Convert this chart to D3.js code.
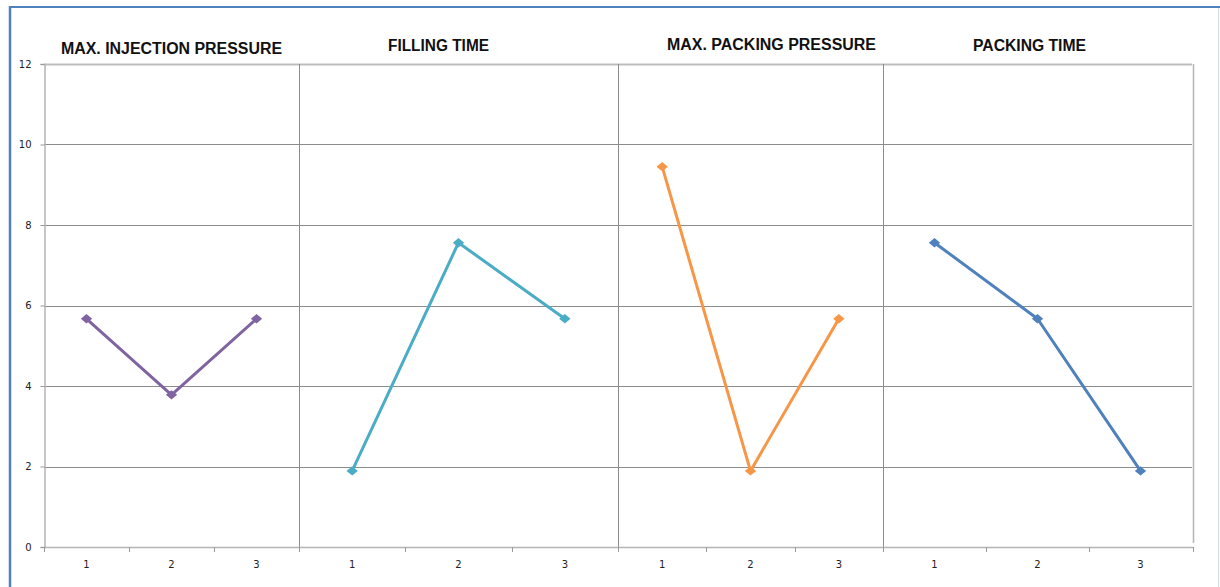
<!DOCTYPE html>
<html>
<head>
<meta charset="utf-8">
<script src="https://cdn.jsdelivr.net/npm/d3@7"></script>
<style>
  html, body { margin: 0; padding: 0; background: #fff; }
  svg { display: block; }
  text { font-family: "Liberation Sans", Arial, sans-serif; }
</style>
</head>
<body>
<svg id="chart" width="1220" height="587"></svg>
<script>
// Process factors, each evaluated at three levels
const factors = ["MAX. INJECTION PRESSURE", "FILLING TIME", "MAX. PACKING PRESSURE", "PACKING TIME"];
const levels = ["1", "2", "3"];
const injectionPressure = [5.67, 3.78, 5.67];
const fillingTime = [1.89, 7.56, 5.67];
const packingPressure = [9.45, 1.89, 5.67];
const packingTime = [7.56, 5.67, 1.89];
const yTicks = [0, 2, 4, 6, 8, 10, 12];

const seriesValues = [injectionPressure, fillingTime, packingPressure, packingTime];
const seriesColors = ["#8064A2", "#4BACC6", "#F79646", "#4F81BD"];

// Panel layout: horizontal extents and title placement
const panelEdges = [44, 299, 618, 883, 1192];
const titleLayout = [
  { cx: 171.5, y: 54, w: 221 },
  { cx: 438.5, y: 51, w: 101 },
  { cx: 771.5, y: 50, w: 209 },
  { cx: 1029.5, y: 51, w: 113 }
];

const svg = d3.select("#chart");
const plotTop = 64, plotBottom = 547;
const y = d3.scaleLinear().domain([0, 12]).range([plotBottom, plotTop]);

// outer frame
svg.append("line").attr("x1", 9).attr("x2", 1220).attr("y1", 7).attr("y2", 7)
  .attr("stroke", "#4F81BD").attr("stroke-width", 2);
svg.append("line").attr("x1", 10).attr("x2", 10).attr("y1", 6).attr("y2", 587)
  .attr("stroke", "#4F81BD").attr("stroke-width", 2.5);
svg.append("line").attr("x1", 1218.5).attr("x2", 1218.5).attr("y1", 8).attr("y2", 587)
  .attr("stroke", "#d4d9df").attr("stroke-width", 1);

// horizontal gridlines
svg.append("g").selectAll("line").data(yTicks.filter(d => d > 0)).join("line")
  .attr("x1", panelEdges[0]).attr("x2", panelEdges[4])
  .attr("y1", d => Math.round(y(d)) + 0.5).attr("y2", d => Math.round(y(d)) + 0.5)
  .attr("stroke", d => d === 12 ? "#bdbdbd" : "#8c8c8c").attr("stroke-width", d => d === 12 ? 2 : 1);

// y axis
const yAxis = svg.append("g").attr("transform", `translate(${panelEdges[0] + 0.5},0)`)
  .call(d3.axisLeft(y).tickValues(yTicks).tickSize(4).tickPadding(9).tickFormat(d3.format("d")));
yAxis.select(".domain").attr("stroke", "#b5b5b5").attr("stroke-width", 1.5);
yAxis.selectAll(".tick line").attr("stroke", "#9a9a9a");
yAxis.selectAll("text").attr("fill", "#222")
  .style("font-family", "'DejaVu Sans', Verdana, sans-serif").attr("font-size", 10);

// panel separators and right border
svg.append("g").selectAll("line").data(panelEdges.slice(1, 4)).join("line")
  .attr("x1", d => d + 0.5).attr("x2", d => d + 0.5).attr("y1", plotTop).attr("y2", plotBottom + 5)
  .attr("stroke", "#8c8c8c").attr("stroke-width", 1);
svg.append("line").attr("x1", panelEdges[4] + 1.5).attr("x2", panelEdges[4] + 1.5)
  .attr("y1", plotTop).attr("y2", plotBottom - 4).attr("stroke", "#b5b5b5").attr("stroke-width", 1.5);

// bottom axis line
svg.append("line").attr("x1", panelEdges[0]).attr("x2", panelEdges[4] + 1)
  .attr("y1", plotBottom + 0.5).attr("y2", plotBottom + 0.5).attr("stroke", "#b5b5b5").attr("stroke-width", 1.5);

const markerShape = d3.symbol().type(d3.symbolDiamond2).size(62);

factors.forEach((name, i) => {
  const x = d3.scaleBand().domain(levels).range([panelEdges[i], panelEdges[i + 1]]);
  const g = svg.append("g");

  // category axis
  const xAxis = g.append("g").attr("transform", `translate(0,${plotBottom + 0.5})`)
    .call(d3.axisBottom(x).tickSize(0).tickPadding(13));
  xAxis.select(".domain").remove();
  xAxis.selectAll("text").attr("fill", "#222")
    .style("font-family", "'DejaVu Sans', Verdana, sans-serif").attr("font-size", 10);
  // band boundary ticks
  g.append("g").selectAll("line").data(levels).join("line")
    .attr("x1", d => Math.round(x(d)) + 0.5).attr("x2", d => Math.round(x(d)) + 0.5)
    .attr("y1", plotBottom).attr("y2", plotBottom + 5).attr("stroke", "#9a9a9a");
  if (i === factors.length - 1) {
    g.append("line").attr("x1", panelEdges[4] + 1.5).attr("x2", panelEdges[4] + 1.5)
      .attr("y1", plotBottom).attr("y2", plotBottom + 5).attr("stroke", "#9a9a9a");
  }

  const vals = seriesValues[i];
  const pts = levels.map((l, k) => [x(l) + x.bandwidth() / 2, y(vals[k])]);
  g.append("path").attr("d", d3.line()(pts)).attr("fill", "none")
    .attr("stroke", seriesColors[i]).attr("stroke-width", 3).attr("stroke-linejoin", "round");
  g.selectAll("path.mk").data(pts).join("path").attr("class", "mk")
    .attr("d", markerShape)
    .attr("transform", d => `translate(${d[0]},${d[1]}) scale(1.15,0.95)`)
    .attr("fill", seriesColors[i]);

  const t = titleLayout[i];
  svg.append("text").attr("x", t.cx).attr("y", t.y).attr("text-anchor", "middle")
    .attr("font-size", 16).attr("font-weight", "bold").attr("fill", "#111")
    .attr("textLength", t.w).attr("lengthAdjust", "spacingAndGlyphs")
    .text(name);
});
</script>
</body>
</html>
